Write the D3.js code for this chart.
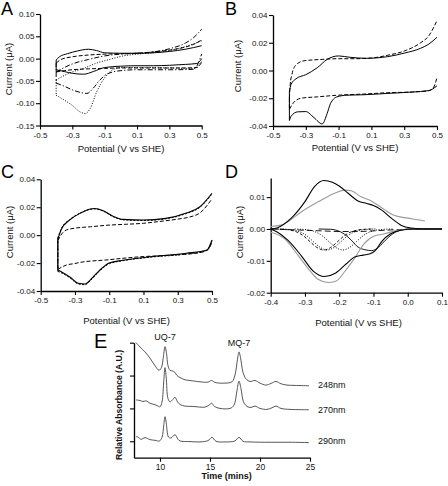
<!DOCTYPE html>
<html><head><meta charset="utf-8">
<script src="https://cdn.jsdelivr.net/npm/d3@7"></script>
<style>body{margin:0;background:#fff}svg{display:block}</style>
</head><body>
<svg id="c" width="448" height="486"></svg>
<script>
// ---------- Panel A (x: V vs SHE, y: µA) ----------
const aSolidUp   = [[-0.4,-0.003],[-0.38,0.004],[-0.33,0.011],[-0.27,0.017],[-0.2,0.021],[-0.15,0.018],[-0.1,0.013],[0,0.012],[0.1,0.012],[0.2,0.013],[0.3,0.016],[0.4,0.021],[0.5,0.029]];
const aSolidDn   = [[-0.4,-0.025],[-0.35,-0.029],[-0.3,-0.033],[-0.23,-0.035],[-0.17,-0.029],[-0.1,-0.02],[0,-0.017],[0.1,-0.016],[0.2,-0.016],[0.3,-0.015],[0.4,-0.013],[0.47,-0.011],[0.5,0.0]];
const aDashUp    = [[-0.4,-0.01],[-0.37,-0.002],[-0.3,0.004],[-0.2,0.008],[-0.1,0.01],[0,0.011],[0.1,0.012],[0.2,0.015],[0.3,0.019],[0.4,0.026],[0.45,0.032],[0.5,0.042]];
const aDashDn    = [[-0.4,-0.03],[-0.35,-0.027],[-0.3,-0.025],[-0.2,-0.023],[-0.1,-0.022],[0,-0.021],[0.2,-0.021],[0.4,-0.021],[0.47,-0.02],[0.5,-0.008]];
const aDashDotUp = [[-0.4,-0.03],[-0.35,-0.02],[-0.3,-0.012],[-0.2,-0.002],[-0.1,0.006],[0,0.01],[0.1,0.012],[0.2,0.015],[0.3,0.022],[0.4,0.035],[0.45,0.047],[0.5,0.066]];
const aDashDotDn = [[-0.4,-0.055],[-0.35,-0.062],[-0.3,-0.07],[-0.25,-0.076],[-0.21,-0.078],[-0.17,-0.066],[-0.13,-0.048],[-0.1,-0.038],[-0.05,-0.03],[0,-0.027],[0.1,-0.025],[0.3,-0.025],[0.45,-0.024],[0.5,0.01]];
const aDotUp     = [[-0.4,-0.048],[-0.35,-0.038],[-0.3,-0.03],[-0.23,-0.022],[-0.15,-0.01],[-0.07,-0.002],[0,0.005],[0.1,0.01],[0.2,0.013],[0.3,0.018],[0.4,0.027],[0.5,0.04]];
const aDotDn     = [[-0.4,-0.082],[-0.35,-0.093],[-0.3,-0.105],[-0.25,-0.12],[-0.22,-0.123],[-0.19,-0.112],[-0.15,-0.075],[-0.1,-0.043],[-0.05,-0.025],[0,-0.02],[0.1,-0.02],[0.3,-0.021],[0.45,-0.022],[0.5,-0.005]];
const aYTicks = [0.10,0.05,0.00,-0.05,-0.10,-0.15];
const cvXTicks = [-0.5,-0.3,-0.1,0.1,0.3,0.5];

// ---------- Panel B ----------
const bSolidUp = [[-0.4,-0.015],[-0.39,-0.01],[-0.36,-0.006],[-0.3,-0.003],[-0.23,0.002],[-0.17,0.008],[-0.1,0.0105],[-0.03,0.0095],[0.07,0.0088],[0.2,0.01],[0.3,0.0125],[0.4,0.016],[0.45,0.019],[0.5,0.024]];
const bSolidDn = [[-0.4,-0.036],[-0.39,-0.033],[-0.35,-0.0298],[-0.3,-0.0296],[-0.25,-0.034],[-0.2,-0.0385],[-0.17,-0.031],[-0.15,-0.024],[-0.11,-0.019],[-0.05,-0.0178],[0.05,-0.0175],[0.2,-0.0165],[0.35,-0.0155],[0.45,-0.0145],[0.5,-0.011]];
const bDashUp  = [[-0.4,-0.02],[-0.395,-0.01],[-0.385,-0.003],[-0.36,0.004],[-0.31,0.007],[-0.2,0.008],[-0.1,0.0085],[0,0.0085],[0.1,0.009],[0.2,0.011],[0.3,0.014],[0.4,0.02],[0.45,0.025],[0.5,0.036]];
const bDashDn  = [[-0.4,-0.028],[-0.38,-0.024],[-0.33,-0.02],[-0.23,-0.019],[-0.09,-0.0177],[0.05,-0.017],[0.2,-0.016],[0.35,-0.0155],[0.45,-0.0145],[0.48,-0.012],[0.5,-0.005]];
const bcYTicks = [0.04,0.02,0.00,-0.02,-0.04];

// ---------- Panel C ----------
const cSolidUp = [[-0.4,-0.003],[-0.38,0.004],[-0.33,0.011],[-0.27,0.0156],[-0.21,0.0187],[-0.185,0.0191],[-0.135,0.0175],[-0.08,0.0137],[-0.02,0.0113],[0.1,0.0108],[0.23,0.012],[0.35,0.0158],[0.43,0.0204],[0.5,0.03]];
const cSolidDn = [[-0.4,-0.025],[-0.37,-0.027],[-0.33,-0.03],[-0.28,-0.0345],[-0.24,-0.035],[-0.21,-0.032],[-0.155,-0.025],[-0.1,-0.02],[-0.02,-0.018],[0.14,-0.0155],[0.35,-0.013],[0.47,-0.0107],[0.5,-0.0035]];
const cDotUp   = [[-0.4,-0.002],[-0.38,0.0045],[-0.33,0.0112],[-0.27,0.0158],[-0.21,0.0185],[-0.185,0.0188],[-0.135,0.0172],[-0.08,0.0134],[-0.02,0.011],[0.1,0.0105],[0.23,0.0117],[0.35,0.0155],[0.43,0.02],[0.5,0.0295]];
const cDotDn   = [[-0.4,-0.026],[-0.37,-0.0275],[-0.33,-0.0305],[-0.28,-0.035],[-0.24,-0.0355],[-0.21,-0.0325],[-0.155,-0.0255],[-0.1,-0.0205],[-0.02,-0.0183],[0.14,-0.0158],[0.35,-0.0135],[0.47,-0.011],[0.5,-0.004]];
const cDashUp  = [[-0.4,-0.004],[-0.37,0.002],[-0.35,0.0037],[-0.3,0.005],[-0.21,0.006],[-0.1,0.0072],[0,0.0078],[0.1,0.0085],[0.18,0.0096],[0.3,0.0115],[0.37,0.013],[0.43,0.016],[0.5,0.026]];
const cDashDn  = [[-0.4,-0.0245],[-0.35,-0.0214],[-0.3,-0.0203],[-0.27,-0.0195],[-0.12,-0.0178],[0.08,-0.0155],[0.27,-0.0143],[0.43,-0.0125],[0.48,-0.01],[0.5,-0.0047]];

// ---------- Panel D ----------
const dBlackUp = [[-0.4,0],[-0.38,0.0004],[-0.34,0.0034],[-0.3,0.0086],[-0.272,0.0133],[-0.245,0.0152],[-0.22,0.0147],[-0.2,0.0135],[-0.174,0.0112],[-0.145,0.0088],[-0.12,0.008],[-0.1,0.0074],[-0.077,0.006],[-0.048,0.0034],[-0.02,0.0012],[0.01,0.0003],[0.05,0],[0.1,0]];
const dBlackDn = [[-0.4,0],[-0.38,-0.001],[-0.35,-0.0035],[-0.31,-0.0085],[-0.275,-0.0133],[-0.243,-0.0149],[-0.21,-0.0138],[-0.18,-0.011],[-0.155,-0.0088],[-0.13,-0.0082],[-0.11,-0.0078],[-0.095,-0.0068],[-0.075,-0.0038],[-0.05,-0.0015],[-0.02,-0.0004],[0.02,0],[0.1,0]];
const dGrayUp  = [[-0.4,0.0008],[-0.37,0.0012],[-0.35,0.0023],[-0.31,0.0054],[-0.26,0.0086],[-0.213,0.0112],[-0.184,0.0122],[-0.165,0.012],[-0.136,0.0101],[-0.11,0.009],[-0.096,0.0081],[-0.067,0.006],[-0.038,0.0042],[0,0.0034],[0.03,0.0029],[0.05,0.0025]];
const dGrayDn  = [[-0.4,-0.001],[-0.36,-0.003],[-0.32,-0.0083],[-0.29,-0.0125],[-0.262,-0.0158],[-0.233,-0.0168],[-0.21,-0.0164],[-0.185,-0.0135],[-0.156,-0.0093],[-0.127,-0.0046],[-0.098,-0.0022],[-0.07,-0.0016],[-0.03,-0.0004],[0.02,0],[0.05,0]];
const dComp1 = [[-0.4,0],[-0.365,-0.0001],[-0.345,-0.0003],[-0.325,-0.0009],[-0.305,-0.0021],[-0.285,-0.004],[-0.265,-0.0058],[-0.245,-0.0066],[-0.225,-0.0058],[-0.205,-0.004],[-0.185,-0.0021],[-0.165,-0.0009],[-0.145,-0.0003],[-0.125,-0.0001],[-0.1,0]];
const dComp2 = [[-0.38,0],[-0.355,-0.0001],[-0.335,-0.0003],[-0.315,-0.0009],[-0.295,-0.0021],[-0.275,-0.004],[-0.255,-0.0058],[-0.235,-0.0066],[-0.215,-0.0058],[-0.195,-0.004],[-0.175,-0.0021],[-0.155,-0.0009],[-0.135,-0.0003],[-0.115,-0.0001],[-0.09,0]];
const dComp3 = [[-0.33,0],[-0.31,-0.0001],[-0.29,-0.0003],[-0.27,-0.0009],[-0.25,-0.0021],[-0.23,-0.004],[-0.21,-0.0058],[-0.19,-0.0066],[-0.17,-0.0058],[-0.15,-0.004],[-0.13,-0.0021],[-0.11,-0.0009],[-0.09,-0.0003],[-0.07,-0.0001],[-0.04,0]];
const dComp4 = [[-0.26,0],[-0.225,-0.0001],[-0.205,-0.0005],[-0.185,-0.0016],[-0.165,-0.0035],[-0.145,-0.0057],[-0.125,-0.0065],[-0.105,-0.0068],[-0.085,-0.0057],[-0.065,-0.0035],[-0.045,-0.0016],[-0.025,-0.0005],[-0.005,-0.0001],[0.02,0],[0.1,0]];
const dComp5 = [[-0.4,0],[-0.35,-0.0002],[-0.3,-0.0004],[-0.25,-0.0006],[-0.2,-0.0008],[-0.15,-0.0008],[-0.1,-0.0006],[-0.05,-0.0003],[0,-0.0001],[0.05,0]];
const dXTicks = [-0.4,-0.3,-0.2,-0.1,0.0,0.1];
const dYTicks = [0.01,0.00,-0.01,-0.02];

// ---------- Panel E (chromatograms) ----------
const e248 = [[7.6,3.5],[8.0,3.37],[8.5,3.22],[9.0,3.03],[9.5,2.8],[9.9,2.66],[10.15,2.75],[10.35,3.1],[10.5,3.38],[10.65,3.18],[10.8,2.8],[11.0,2.66],[11.25,2.64],[11.45,2.61],[11.7,2.5],[12.0,2.44],[12.5,2.37],[13.0,2.35],[14.0,2.31],[14.8,2.3],[15.15,2.35],[15.5,2.29],[16.5,2.27],[17.2,2.31],[17.5,2.52],[17.75,3.0],[17.9,3.22],[18.05,3.05],[18.3,2.6],[18.6,2.4],[19.0,2.32],[19.5,2.35],[20.0,2.27],[20.6,2.21],[21.1,2.26],[21.6,2.32],[22.1,2.25],[22.7,2.21],[23.5,2.2],[24.9,2.19]];
const e270 = [[7.6,1.76],[8.0,1.74],[8.3,1.71],[8.6,1.73],[9.0,1.66],[9.4,1.62],[9.7,1.59],[10.0,1.55],[10.2,1.7],[10.38,2.35],[10.5,2.74],[10.62,2.45],[10.8,1.8],[11.0,1.7],[11.25,1.76],[11.5,1.84],[11.75,1.7],[12.0,1.62],[12.5,1.57],[13.3,1.56],[14.5,1.54],[14.9,1.6],[15.15,1.66],[15.45,1.56],[16.0,1.5],[17.0,1.5],[17.4,1.6],[17.7,2.05],[17.9,2.33],[18.1,2.1],[18.35,1.7],[18.7,1.56],[19.1,1.53],[19.5,1.57],[20.0,1.5],[20.7,1.47],[21.2,1.52],[21.6,1.57],[22.1,1.5],[23.0,1.47],[24.9,1.46]];
const e290 = [[7.6,0.64],[7.8,0.63],[8.1,0.56],[8.5,0.61],[9.0,0.55],[9.5,0.53],[9.95,0.51],[10.2,0.62],[10.38,1.0],[10.5,1.25],[10.63,1.05],[10.85,0.63],[11.1,0.6],[11.5,0.7],[11.8,0.56],[12.0,0.51],[13.0,0.49],[14.0,0.48],[14.8,0.52],[15.2,0.62],[15.6,0.5],[16.5,0.48],[17.5,0.51],[17.9,0.62],[18.3,0.5],[19.0,0.48],[21.0,0.47],[23.0,0.47],[24.9,0.46]];
const eXTicks = [10,15,20,25];
const eYTicks = [0.5,1.5,2.5,3.5];
const eTraceLabels = ['248nm','270nm','290nm'];
const ePeakLabels = [{name:'UQ-7', t:10.5},{name:'MQ-7', t:17.9}];

// ---------- drawing ----------
const svg = d3.select('#c');
const FONT = '"Liberation Sans", Arial, Helvetica, sans-serif';
const hy = f => d => d3.format(f)(d).replace('\u2212','-');

function panel(c){
  const x = d3.scaleLinear().domain(c.xd).range([c.l, c.r]);
  const y = d3.scaleLinear().domain(c.yd).range([c.b, c.t]);
  const g = svg.append('g');
  const gx = g.append('g').attr('transform',`translate(0,${c.b})`)
    .call(d3.axisBottom(x).tickValues(c.xt).tickSize(4).tickSizeOuter(0).tickPadding(2.5).tickFormat(c.xf));
  const gy = g.append('g').attr('transform',`translate(${c.l},0)`)
    .call(d3.axisLeft(y).tickValues(c.yt).tickSize(4).tickSizeOuter(0).tickPadding(1.5).tickFormat(c.yf));
  [gx,gy].forEach(a=>{
    a.select('.domain').attr('stroke','#000').attr('stroke-width',1.3);
    a.selectAll('.tick line').attr('stroke','#000').attr('stroke-width',1.1);
    a.selectAll('.tick text').attr('fill','#111').style('font-family',FONT).style('font-size',(c.tfs||8)+'px');
  });
  return {x,y,g};
}
function drawLine(p, data, dash, color, w, curve){
  const ln = d3.line().x(d=>p.x(d[0])).y(d=>p.y(d[1])).curve(curve||d3.curveMonotoneX);
  p.g.append('path').attr('d', ln(data)).attr('fill','none')
    .attr('stroke', color||'#000').attr('stroke-width', w||1)
    .attr('stroke-dasharray', dash||null).attr('stroke-linejoin','round');
}
// CV loop: forward and reverse sweeps, joined at the negative vertex only
function drawLoop(p, up, dn, dash, color, w){
  drawLine(p, up, dash, color, w);
  drawLine(p, dn, dash, color, w);
  drawLine(p, [up[0], dn[0]], dash, color, w, d3.curveLinear);
}
function text(str, x, y, o={}){
  const t = svg.append('text').attr('x',x).attr('y',y).text(str)
    .style('font-family',FONT).style('font-size',(o.fs||9.5)+'px')
    .style('font-weight',o.fw||'normal').attr('fill',o.fill||'#111')
    .attr('text-anchor',o.anchor||'middle');
  if(o.rot) t.attr('transform',`rotate(${o.rot},${x},${y})`);
  return t;
}

const DASH='4,2', DASHDOT='5,2,1.2,2', DOT='1,1.6';

// A
const pA = panel({l:40,r:201.7,t:14,b:125.5,xd:[-0.5,0.5],yd:[-0.15,0.10],xt:cvXTicks,yt:aYTicks,xf:hy('.1f'),yf:hy('.2f')});
drawLoop(pA,aSolidUp,aSolidDn,null);
drawLoop(pA,aDashUp,aDashDn,DASH);
drawLoop(pA,aDashDotUp,aDashDotDn,DASHDOT);
drawLoop(pA,aDotUp,aDotDn,DOT);
// B
const pB = panel({l:273,r:437,t:15,b:126,xd:[-0.5,0.5],yd:[-0.04,0.04],xt:cvXTicks,yt:bcYTicks,xf:hy('.1f'),yf:hy('.2f')});
drawLoop(pB,bSolidUp,bSolidDn,null);
drawLoop(pB,bDashUp,bDashDn,DASH);
// C
const pC = panel({l:40.7,r:212,t:179.3,b:291,xd:[-0.5,0.5],yd:[-0.04,0.04],xt:cvXTicks,yt:bcYTicks,xf:hy('.1f'),yf:hy('.2f')});
drawLoop(pC,cSolidUp,cSolidDn,null,'#000',1.1);
drawLoop(pC,cDotUp,cDotDn,'2,1.5','#000',1);
drawLoop(pC,cDashUp,cDashDn,DASH);
// D
const pD = panel({l:270.7,r:442,t:178,b:292.7,xd:[-0.4,0.1],yd:[-0.02,0.016],xt:dXTicks,yt:dYTicks,xf:hy('.1f'),yf:hy('.2f')});
drawLine(pD,dComp5,'6,3','#000',0.9);
drawLine(pD,dComp1,'3,2','#000',0.9);
drawLine(pD,dComp2,DOT,'#000',1);
drawLine(pD,dComp3,DOT,'#000',1);
drawLine(pD,dComp4,null,'#000',0.9);
drawLine(pD,dGrayUp,null,'#9a9a9a',1.1);
drawLine(pD,dGrayDn,null,'#9a9a9a',1.1);
drawLine(pD,dBlackUp,null,'#000',1.1);
drawLine(pD,dBlackDn,null,'#000',1.1);
// E
const pE = panel({l:134,r:310,t:342.7,b:457.7,xd:[7.4,25],yd:[0,3.5],xt:eXTicks,yt:eYTicks,xf:d3.format('d'),yf:()=>'',tfs:8.5});
[e248,e270,e290].forEach(tr=>drawLine(pE,tr,null,'#444',0.9,d3.curveCatmullRom.alpha(0.5)));

// Titles / labels
const letters=[['A',1,15,18],['B',225,15,18],['C',1,178,18],['D',225,178,18],['E',94,348,20]];
letters.forEach(l=>text(l[0],l[1],l[2],{fs:l[3],anchor:'start',fill:'#000'}));

text('Potential (V vs SHE)',121,152);
text('Potential (V vs SHE)',355,151);
text('Potential (V vs SHE)',126.5,324);
text('Potential (V vs SHE)',358.5,326);
text('Current (\u03bcA)',11.5,69,{rot:-90});
text('Current (\u03bcA)',241,66,{rot:-90});
text('Current (\u03bcA)',12.5,232,{rot:-90});
text('Current (\u03bcA)',242.5,232,{rot:-90});

text('Time (mins)',226.7,479,{fw:'bold',fs:9});
text('Relative Absorbance (A.U.)',121.5,405,{fw:'bold',fs:8.6,rot:-90});
ePeakLabels.forEach((p,i)=>text(p.name,pE.x(p.t),i===0?340:346,{fs:9}));
const labelY=[388,413,444];
eTraceLabels.forEach((s,i)=>text(s,318,labelY[i],{fs:9,anchor:'start'}));
</script>
</body></html>
